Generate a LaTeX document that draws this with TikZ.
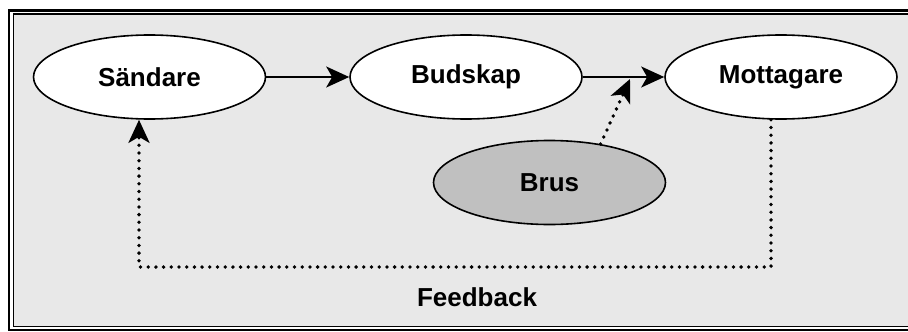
\documentclass[tikz,border=0pt]{standalone}
\usepackage{fontspec}
\newfontfamily\partyfont{Liberation Sans}
\usetikzlibrary{arrows.meta,shapes.geometric}

\definecolor{panel}{RGB}{232,232,232}
\definecolor{noisefill}{RGB}{192,192,192}

\tikzset{
  lbl/.style={font=\partyfont\bfseries\fontsize{26pt}{29pt}\selectfont},
  party/.style={ellipse, draw=black, line width=1.6pt, fill=white,
    minimum width=232pt, minimum height=84pt, inner sep=0pt, lbl},
  noise/.style={party, fill=noisefill},
  tip/.style={-{Stealth[length=23pt,width=21pt,inset=6pt]}},
  flow/.style={line width=2pt, tip},
  dotline/.style={line width=3.8pt, line cap=round, dash pattern=on 0pt off 7.7pt},
  fbarrow/.style={dotline, tip}
}

\begin{document}
\begin{tikzpicture}[x=1pt,y=-1pt]
  \useasboundingbox (0,0) rectangle (908,332);
  \clip (0,0) rectangle (908,332);

  % double frame with grey panel
  \fill[white] (0,0) rectangle (908,332);
  \draw[line width=2.4pt] (9,10.5) rectangle (920,330);
  \fill[panel] (13.5,14) rectangle (920,326.5);
  \draw[line width=1.2pt] (13.5,14) rectangle (920,326.5);

  % communication parties
  \node[party] (s) at (149.5,77) {Sändare};
  \node[party] (b) at (466,77) {Budskap};
  \node[party] (m) at (781,77) {Mottagare};
  \node[noise] (n) at (549.5,182.5) {Brus};

  \draw[flow] (s) -- (b);
  \draw[flow] (b) -- (m);

  % noise disturbing the message
  \coordinate (hit) at (630,79);
  \draw[fbarrow] (n.37) -- (hit);

  % feedback loop
  \coordinate (fbR) at (771,267);
  \coordinate (fbL) at (139,267);
  \draw[fbarrow] (m.south -| fbR) -- (fbR) -- (fbL) -- (s.south -| fbL);

  \node[lbl] (fb) at (477,297) {Feedback};
\end{tikzpicture}
\end{document}
